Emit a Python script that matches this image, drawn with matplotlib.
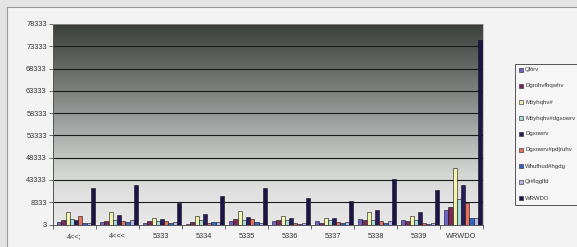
import numpy as np
import matplotlib
matplotlib.use("Agg")
import matplotlib.pyplot as plt
from matplotlib.patches import Rectangle
from matplotlib.colors import LinearSegmentedColormap
from matplotlib import font_manager

plt.rcParams['font.family'] = ['Liberation Sans', 'DejaVu Sans']

# ---- data ----
categories = ["4<<;", "4<<<", "5333", "5334", "5335", "5336", "5337", "5338", "5339", "WRWDO"]
series_names = ["Qlôrv", "Dgrohvfhqwhv", "Möyhqhv#", "Möyhqhv#dgxowrv", "Dgxowrv",
                "Dgxowrv#pd|ruhv", "Whufhud#hgdg", "Qr#lqglfd", "WRWDO"]
ninos           = [600, 600, 400, 220, 800, 800, 700, 1250, 1000, 3300]
adolescentes    = [900, 800, 750, 450, 1250, 900, 400, 1000, 800, 3900]
jovenes         = [2800, 2700, 1550, 2000, 3000, 1850, 1550, 2700, 1950, 12700]
jovenes_adultos = [1300, 1000, 800, 1000, 1100, 1000, 1000, 1100, 1000, 5800]
adultos         = [1000, 2200, 1200, 2400, 1650, 1550, 1550, 3200, 2750, 8800]
adultos_mayores = [2000, 800, 750, 300, 1250, 400, 450, 750, 400, 4900]
tercera_edad    = [400, 450, 400, 600, 450, 220, 400, 300, 220, 1400]
no_indica       = [300, 1000, 450, 500, 400, 400, 500, 700, 300, 1500]
total           = [8300, 8800, 4900, 6400, 8300, 6000, 5300, 10100, 7700, 41400]
series_values = [ninos, adolescentes, jovenes, jovenes_adultos, adultos,
                 adultos_mayores, tercera_edad, no_indica, total]
ytick_values = [0, 5000, 10000, 15000, 20000, 25000, 30000, 35000, 40000, 45000]
ytick_labels = ["3", "8333", "43333", "48333", "53333", "58333", "63333", "68333", "73333", "78333"]

colors = ["#6d62c8", "#7a2a55", "#f3f3b0", "#a8dcd8", "#2a1a5e",
          "#e8705e", "#2f64c0", "#b8b8f0", "#1c1448"]

installed = {f.name for f in font_manager.fontManager.ttflist}
if 'Liberation Sans Narrow' in installed:
    legend_family, legend_size = ['Liberation Sans Narrow', 'DejaVu Sans'], 5.3
else:
    legend_family, legend_size = ['Liberation Sans', 'DejaVu Sans'], 4.3

W, H = 577, 247
fig = plt.figure(figsize=(W / 100, H / 100), dpi=100)
fig.patch.set_facecolor('#e4e4e4')

# chart area
fig.add_artist(Rectangle((7 / W, -0.2), 1.2, 1.2 - 7 / H, transform=fig.transFigure,
                         facecolor='#f3f3f3', edgecolor='#9a9a9a', lw=0.8, zorder=0))

ax = fig.add_axes([53 / W, 1 - 224.5 / H, (483 - 53) / W, (224.5 - 24) / H])
ax.set_xlim(0, 10)
ax.set_ylim(0, 45000)
ax.patch.set_alpha(0)

# gradient back wall
cmap = LinearSegmentedColormap.from_list("wall", [
    (0.0, "#e6e7e6"), (0.15, "#e0e1e0"), (0.25, "#d4d6d4"), (0.35, "#c0c2c0"),
    (0.5, "#a0a3a1"), (0.7, "#767a77"), (0.85, "#575b58"), (1.0, "#3b3f3c")])
grad = np.linspace(0, 1, 256).reshape(-1, 1)
ax.imshow(grad, extent=[0, 10, 0, 45000], aspect='auto', cmap=cmap, origin='lower', zorder=0)

for v in ytick_values[1:]:
    ax.axhline(v, color='#1a1a1a', lw=0.8, zorder=1)

bw = 0.0975
x0 = np.arange(len(categories))
for j, (vals, c) in enumerate(zip(series_values, colors)):
    ax.bar(x0 + 0.1 + bw * j + bw / 2, vals, width=bw, color=c,
           edgecolor='#101010', lw=0.4, zorder=3)

ax.set_yticks(ytick_values)
ax.set_yticklabels(ytick_labels, fontsize=5.3, color='#333333')
ax.set_xticks(np.arange(0, 11))
ax.set_xticklabels([])
ax.set_xticks(x0 + 0.5, minor=True)
ax.set_xticklabels(categories, minor=True, fontsize=5.3, color='#333333')
ax.tick_params(axis='x', which='minor', length=0, pad=6)
ax.tick_params(axis='x', which='major', length=3, width=0.6, color='#555555')
ax.tick_params(axis='y', length=3, width=0.6, color='#555555', pad=1.5)
for s in ['left', 'bottom']:
    ax.spines[s].set_color('#555555')
    ax.spines[s].set_linewidth(0.7)
for s in ['top', 'right']:
    ax.spines[s].set_color('#b0b0b0')
    ax.spines[s].set_linewidth(0.5)

# legend (manual, box extends past right edge)
lx, ltop, lbot = 515, 64, 205
fig.add_artist(Rectangle((lx / W, 1 - lbot / H), 0.5, (lbot - ltop) / H,
                         transform=fig.transFigure, facecolor='#f6f6f6',
                         edgecolor='#555555', lw=0.7, zorder=1))
for i, (name, c) in enumerate(zip(series_names, colors)):
    yc = 70 + 16 * i
    fig.add_artist(Rectangle((519 / W, 1 - (yc + 2) / H), 4 / W, 4 / H,
                             transform=fig.transFigure, facecolor=c,
                             edgecolor='#202020', lw=0.4, zorder=2))
    fig.text(525 / W, 1 - yc / H, name, fontsize=legend_size, family=legend_family,
             color='#333333', va='center', ha='left', zorder=3)

fig.savefig("out.png", dpi=100, facecolor=fig.get_facecolor())
